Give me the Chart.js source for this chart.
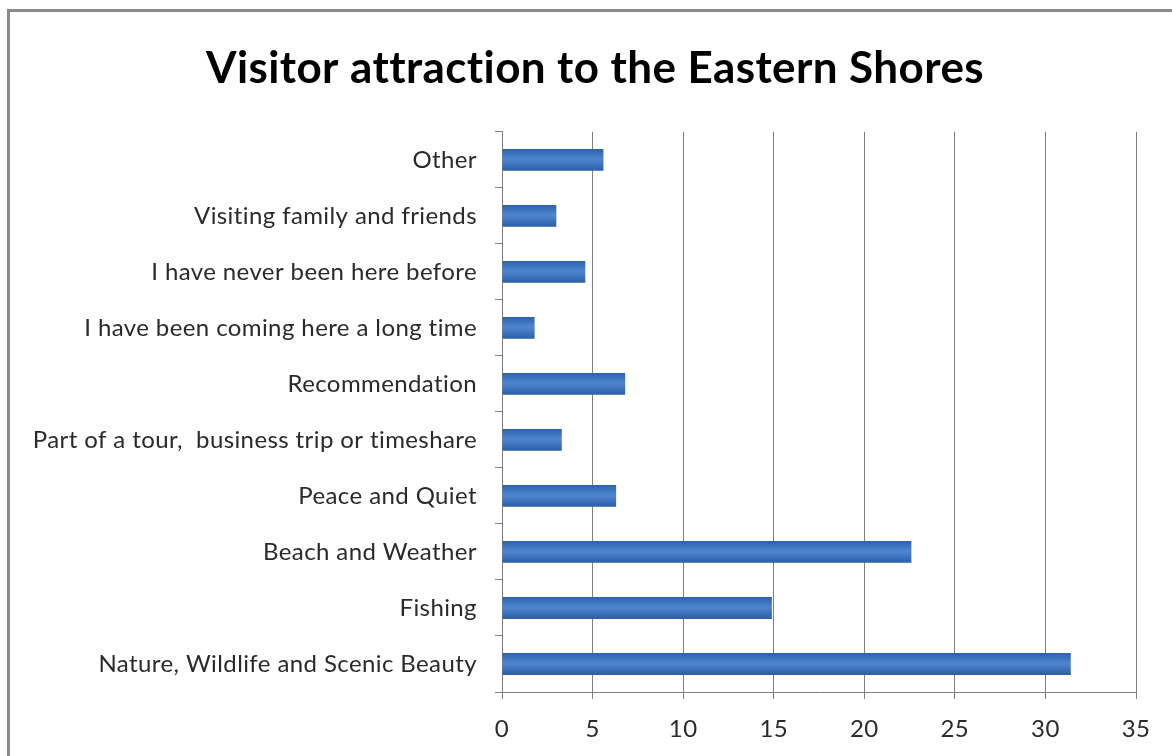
<!DOCTYPE html>
<html>
<head>
<meta charset="utf-8">
<script src="https://cdn.jsdelivr.net/npm/chart.js@4"></script>
<style>
  html, body { margin: 0; padding: 0; background: #fff; }
  #wrap { position: relative; width: 1172px; height: 756px; overflow: hidden; }
  #frame { position: absolute; left: 7px; top: 9px; width: 1200px; height: 800px;
           border-left: 3px solid #8a8a8a; border-top: 3px solid #8a8a8a; }
  canvas { position: absolute; left: 0; top: 0; }
</style>
</head>
<body>
<div id="wrap">
  <div id="frame"></div>
  <canvas id="mycanvas" width="1172" height="756"></canvas>
</div>
<script>
var chartTitle = 'Visitor attraction to the Eastern Shores';
var reasons = [
  'Other',
  'Visiting family and friends',
  'I have never been here before',
  'I have been coming here a long time',
  'Recommendation',
  'Part of a tour,  business trip or timeshare',
  'Peace and Quiet',
  'Beach and Weather',
  'Fishing',
  'Nature, Wildlife and Scenic Beauty'
];
var counts = [5.6, 3.0, 4.6, 1.8, 6.8, 3.3, 6.3, 22.6, 14.9, 31.4];
var xTicks = [0, 5, 10, 15, 20, 25, 30, 35];

var FONT = 'Lato, "Open Sans", sans-serif';
var BAR_PCT = 0.39;

// vertical shading on each bar, darker at the edges
function barFill(context) {
  var chart = context.chart;
  var y = chart.scales.y;
  if (!y || y.height === undefined) return '#3b70bb';
  var mid = y.getPixelForValue(context.dataIndex);
  var half = y.height / reasons.length * BAR_PCT / 2;
  var g = chart.ctx.createLinearGradient(0, mid - half, 0, mid + half);
  g.addColorStop(0, '#2d61aa');
  g.addColorStop(0.45, '#4d86cf');
  g.addColorStop(0.6, '#477dc6');
  g.addColorStop(1, '#2c5ea6');
  return g;
}

// a little letter spacing keeps Lato from joining "tt" / "ti";
// the title is centred a bit right of the canvas middle
var tweaks = {
  id: 'tweaks',
  afterLayout: function (chart) {
    if (chart.titleBlock) chart.titleBlock.left = 54;
  },
  beforeDraw: function (chart) { chart.ctx.letterSpacing = '0.4px'; }
};

var ctx = document.getElementById('mycanvas');
var barGraph = new Chart(ctx, {
  type: 'bar',
  plugins: [tweaks],
  data: {
    labels: reasons,
    datasets: [{
      label: 'Visitors',
      data: counts,
      backgroundColor: barFill,
      borderWidth: 0,
      categoryPercentage: 1,
      barPercentage: BAR_PCT
    }]
  },
  options: {
    indexAxis: 'y',
    responsive: false,
    animation: false,
    layout: { padding: { left: 0, right: 36, top: 0, bottom: 0 } },
    plugins: {
      legend: { display: false },
      tooltip: { enabled: false },
      title: {
        display: true,
        text: chartTitle,
        color: '#000',
        font: { family: FONT, size: 44, weight: 'bold', lineHeight: 1.2 },
        padding: { top: 42, bottom: 37 }
      }
    },
    scales: {
      x: {
        min: 0,
        max: 35,
        afterBuildTicks: function (scale) {
          scale.ticks = xTicks.map(function (v) { return { value: v }; });
        },
        afterFit: function (scale) { scale.height = 64; },
        grid: {
          color: '#808080',
          lineWidth: 1,
          drawTicks: true,
          tickLength: 7,
          tickColor: '#808080'
        },
        border: { color: '#808080', width: 1 },
        ticks: {
          color: '#2a2a2a',
          padding: 16,
          font: { family: FONT, size: 24 }
        }
      },
      y: {
        afterFit: function (scale) { scale.width = 502; },
        grid: {
          offset: true,
          drawOnChartArea: false,
          drawTicks: true,
          tickLength: 7,
          tickColor: '#808080'
        },
        border: { color: '#808080', width: 1 },
        ticks: {
          color: '#2a2a2a',
          padding: 18,
          font: { family: FONT, size: 24 }
        }
      }
    }
  }
});
</script>
</body>
</html>
